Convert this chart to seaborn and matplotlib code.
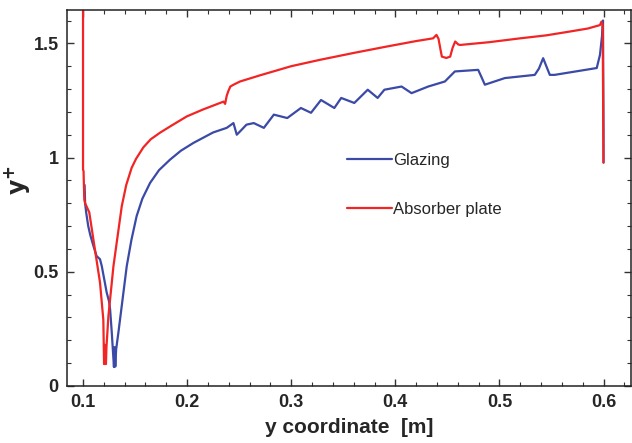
import numpy as np
import matplotlib
matplotlib.use("Agg")
import matplotlib.pyplot as plt
from matplotlib.ticker import MultipleLocator
import seaborn as sns

# Glazing curve
glazing_x = [0.1015, 0.102, 0.103, 0.105, 0.107, 0.110, 0.113, 0.1163, 0.118, 0.1227,
             0.125, 0.126, 0.1276, 0.1297, 0.1303, 0.131, 0.1318, 0.134, 0.138, 0.142,
             0.1465, 0.1515, 0.157, 0.1644, 0.173, 0.1836, 0.194, 0.206, 0.225, 0.238,
             0.2445, 0.2477, 0.252, 0.257, 0.264, 0.2737, 0.2833, 0.2962, 0.3093, 0.319,
             0.3286, 0.3414, 0.348, 0.3606, 0.3735, 0.383, 0.3895, 0.406, 0.4156, 0.4316,
             0.4476, 0.4572, 0.4796, 0.483, 0.486, 0.5052, 0.534, 0.538, 0.542, 0.5484,
             0.553, 0.5935, 0.5966, 0.5985, 0.5995, 0.6, 0.6]
glazing_y = [0.88, 0.80, 0.76, 0.70, 0.66, 0.613, 0.569, 0.555, 0.525, 0.41,
             0.37, 0.336, 0.235, 0.083, 0.17, 0.085, 0.16, 0.235, 0.38, 0.525,
             0.64, 0.744, 0.82, 0.889, 0.945, 0.991, 1.03, 1.064, 1.11, 1.13,
             1.151, 1.10, 1.12, 1.144, 1.151, 1.13, 1.188, 1.173, 1.217, 1.196,
             1.252, 1.217, 1.261, 1.239, 1.297, 1.261, 1.297, 1.311, 1.282, 1.311,
             1.333, 1.377, 1.384, 1.35, 1.319, 1.348, 1.362, 1.39, 1.435, 1.362,
             1.362, 1.392, 1.45, 1.53, 1.60, 1.118, 0.978]

# Absorber plate curve
absorber_x = [0.1, 0.1, 0.1005, 0.1012, 0.102, 0.106, 0.110, 0.1163, 0.1195, 0.1202,
              0.121, 0.122, 0.1225, 0.1244, 0.1292, 0.1372, 0.1415, 0.1467, 0.151, 0.158,
              0.165, 0.174, 0.185, 0.1996, 0.215, 0.235, 0.2365, 0.238, 0.2395, 0.2415,
              0.245, 0.2508, 0.27, 0.30, 0.3277, 0.36, 0.3917, 0.42, 0.4363, 0.4395,
              0.4415, 0.4435, 0.4447, 0.449, 0.4527, 0.455, 0.4575, 0.4605, 0.4623, 0.49,
              0.52, 0.545, 0.568, 0.585, 0.5966, 0.598, 0.5992, 0.5998, 0.6]
absorber_y = [1.75, 0.948, 0.94, 0.817, 0.80, 0.76, 0.64, 0.453, 0.29, 0.096,
              0.18, 0.096, 0.17, 0.307, 0.524, 0.787, 0.88, 0.955, 0.995, 1.045,
              1.08, 1.109, 1.14, 1.18, 1.21, 1.245, 1.235, 1.27, 1.29, 1.311,
              1.32, 1.333, 1.36, 1.40, 1.428, 1.458, 1.486, 1.51, 1.522, 1.537,
              1.52, 1.47, 1.442, 1.436, 1.442, 1.48, 1.508, 1.495, 1.493, 1.505,
              1.522, 1.535, 1.552, 1.565, 1.58, 1.595, 1.58, 1.10, 0.978]

x_ticks = [0.1, 0.2, 0.3, 0.4, 0.5, 0.6]
x_ticklabels = ['0.1', '0.2', '0.3', '0.4', '0.5', '0.6']
y_ticks = [0, 0.5, 1, 1.5]
y_ticklabels = ['0', '0.5', '1', '1.5']

sns.set_style("ticks")
plt.rcParams['font.family'] = ['Liberation Sans', 'DejaVu Sans']

fig = plt.figure(figsize=(6.32, 4.43), dpi=100)
ax = fig.add_axes([67 / 632, 57 / 443, 564 / 632, 376 / 443])

sns.lineplot(x=glazing_x, y=glazing_y, sort=False, estimator=None, ax=ax,
             color='#3a4aa6', linewidth=1.6, label='Glazing')
sns.lineplot(x=absorber_x, y=absorber_y, sort=False, estimator=None, ax=ax,
             color='#f22424', linewidth=1.6, label='Absorber plate')

ax.set_xlim(0.0846, 0.6264)
ax.set_ylim(0, 1.646)
ax.set_xticks(x_ticks)
ax.set_xticklabels(x_ticklabels)
ax.set_yticks(y_ticks)
ax.set_yticklabels(y_ticklabels)
ax.xaxis.set_minor_locator(MultipleLocator(0.02))
ax.yaxis.set_minor_locator(MultipleLocator(0.1))
ax.tick_params(which='both', direction='in', top=True, right=True, color='#333333')
ax.tick_params(which='major', length=5, width=1, labelsize=13, pad=6)
ax.tick_params(which='minor', length=3, width=0.8)
for lab in ax.get_xticklabels() + ax.get_yticklabels():
    lab.set_fontweight('bold')
for sp in ax.spines.values():
    sp.set_linewidth(1.1)
    sp.set_color('#222222')

ax.set_xlabel('y coordinate  [m]', fontsize=15, fontweight='bold', labelpad=5)
ax.set_ylabel(r'$\mathbf{y^{+}}$', fontsize=17)
ax.yaxis.set_label_coords(-0.062, 0.548)

ax.legend(loc='upper left', bbox_to_anchor=(347 / 632, 1 - 153 / 443),
          bbox_transform=fig.transFigure, frameon=False, fontsize=12,
          handlelength=2.7, handletextpad=0.05, labelspacing=2.05,
          borderpad=0, borderaxespad=0)

fig.savefig('out.png', dpi=100)
